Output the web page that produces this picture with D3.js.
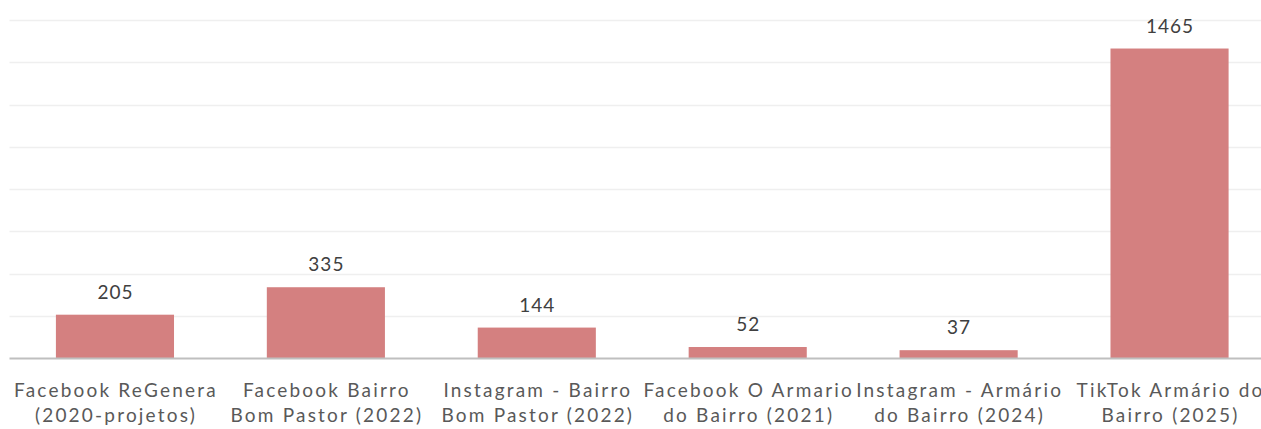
<!DOCTYPE html>
<html><head><meta charset="utf-8">
<script src="https://cdn.jsdelivr.net/npm/d3@7"></script>
<style>body{margin:0;background:#fff}svg{display:block}</style>
</head><body>
<svg id="c" width="1261" height="429"></svg>
<script>
const categories = [
  ["Facebook ReGenera", "(2020-projetos)"],
  ["Facebook Bairro", "Bom Pastor (2022)"],
  ["Instagram - Bairro", "Bom Pastor (2022)"],
  ["Facebook O Armario", "do Bairro (2021)"],
  ["Instagram - Armário", "do Bairro (2024)"],
  ["TikTok Armário do", "Bairro (2025)"]
];
const values = [205, 335, 144, 52, 37, 1465];
const yTicks = [0, 200, 400, 600, 800, 1000, 1200, 1400, 1600];

(function () {
const svg = d3.select("#c");
const mL = 9.5, mR = 1275, mT = 20, mB = 358;
const keys = categories.map((c, i) => i);
const x = d3.scaleBand().domain(keys).range([mL, mR]).paddingInner(0.44).paddingOuter(0.22);
const y = d3.scaleLinear().domain([0, 1600]).range([mB, mT]);

svg.append("g").selectAll("line").data(yTicks.slice(1)).join("line")
  .attr("x1", mL).attr("x2", 1261)
  .attr("y1", d => Math.round(y(d)) + 0.5).attr("y2", d => Math.round(y(d)) + 0.5)
  .attr("stroke", "#efefef").attr("stroke-width", 1.5);

svg.append("g").selectAll("rect").data(values).join("rect")
  .attr("x", (d, i) => x(i)).attr("width", x.bandwidth())
  .attr("y", d => y(d)).attr("height", d => mB - y(d))
  .attr("fill", "#d48080");

svg.append("line").attr("x1", mL).attr("x2", 1261).attr("y1", mB + 0.5).attr("y2", mB + 0.5)
  .attr("stroke", "#bfbfbf").attr("stroke-width", 2);

svg.append("g").selectAll("text").data(values).join("text")
  .attr("x", (d, i) => x(i) + x.bandwidth() / 2 + 0.5)
  .attr("y", d => y(d) - 16)
  .attr("text-anchor", "middle")
  .attr("font-family", "Lato, 'Open Sans', sans-serif").attr("font-size", 19)
  .attr("letter-spacing", 1)
  .attr("fill", "#404040").text(d => d);

const lab = svg.append("g").selectAll("text").data(categories).join("text")
  .attr("x", (d, i) => x(i) + x.bandwidth() / 2 + 1)
  .attr("y", 397)
  .attr("text-anchor", "middle")
  .attr("font-family", "Lato, 'Open Sans', sans-serif").attr("font-size", 19)
  .attr("letter-spacing", 2.2)
  .attr("fill", "#595959");
lab.selectAll("tspan").data(d => d).join("tspan")
  .attr("x", function() { return this.parentNode.getAttribute("x"); })
  .attr("dy", (d, i) => i === 0 ? 0 : 24.5)
  .text(d => d);
})();
</script>
</body></html>
